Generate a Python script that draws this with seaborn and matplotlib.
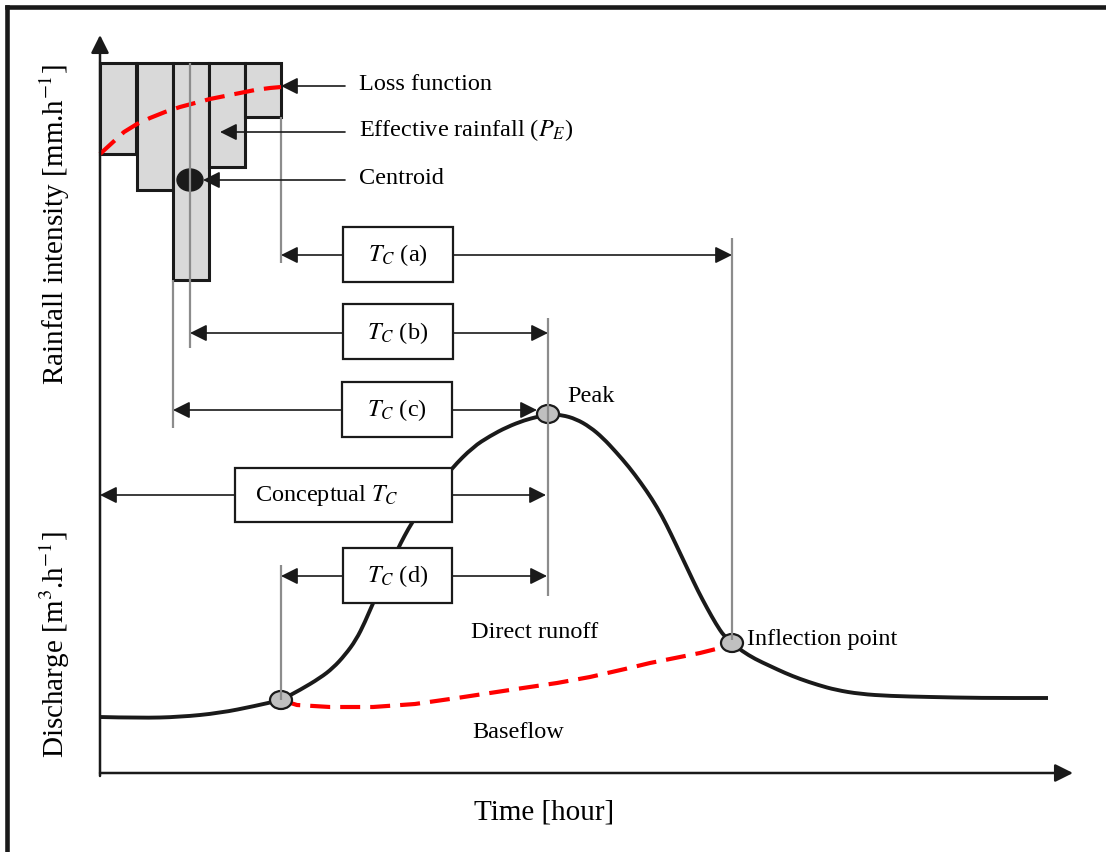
import numpy as np
import matplotlib
matplotlib.use('Agg')
import matplotlib.pyplot as plt
from matplotlib.patches import Rectangle, Ellipse, PathPatch
from matplotlib.path import Path
import seaborn as sns

# drawing units are the pixels of the 1106x852 picture, y grows downward
W, H = 1106, 852

# hyetograph: bars hang down from the top line
bar_left = [100, 137, 173, 209, 245]
bar_width = 36
bar_top = 63
bar_bottom = [154, 190, 280, 167, 117]

# loss function (red dashed)
loss_x = [100, 112, 124, 137, 150, 165, 180, 195, 210, 225, 240, 255, 270, 281]
loss_y = [154, 143, 132, 124, 118, 112, 107, 103, 99, 96, 93, 90, 88, 87]

# hydrograph
hydro_x = [100, 140, 180, 220, 255, 281, 300, 320, 333, 345, 356, 365, 373, 385,
           397, 412, 430, 452, 473, 490, 507, 525, 537, 548, 562, 576, 590, 603,
           616, 629, 641, 652, 662, 671, 680, 689, 698, 707, 716, 724, 732, 742,
           755, 770, 785, 800, 818, 836, 860, 890, 930, 980, 1048]
hydro_y = [717, 718, 717, 713, 706, 700, 690, 678, 668, 655, 640, 622, 603, 578,
           550, 522, 495, 468, 447, 436, 427, 420, 417, 414, 415, 419, 427, 438,
           452, 467, 483, 499, 516, 534, 553, 572, 591, 608, 624, 636, 643, 651,
           659, 666, 673, 679, 685, 690, 694, 696, 697, 698, 698]

# baseflow separation (red dashed)
base_x = [281, 297, 330, 373, 415, 457, 490, 523, 557, 590, 625, 650, 675, 700, 720, 732]
base_y = [700, 705, 707, 707, 704, 698, 693, 688, 683, 677, 669, 663, 658, 653, 648, 643]

centroid_xy = (190, 180)
point_x = [281, 548, 732]          # start of rise, peak, inflection
point_y = [700, 414, 643]

# grey reference lines
guide_x = [190, 173, 281, 281, 548, 732]
guide_y0 = [63, 280, 117, 565, 318, 238]
guide_y1 = [348, 428, 263, 700, 596, 640]

# time-of-concentration definitions
tc_labels = [r'$T_C$ (a)', r'$T_C$ (b)', r'$T_C$ (c)', r'Conceptual $T_C$', r'$T_C$ (d)']
tc_box_x0 = [343, 343, 342, 235, 343]
tc_box_x1 = [453, 453, 452, 452, 452]
tc_box_y0 = [227, 304, 382, 468, 548]
tc_box_y1 = [282, 359, 437, 522, 603]
tc_line_y = [255, 333, 410, 495, 576]
tc_from = [281, 190, 173, 100, 281]
tc_to = [732, 548, 537, 546, 547]

note_labels = ['Loss function', r'Effective rainfall ($P_E$)', 'Centroid']
note_y = [86, 132, 180]
note_tip = [281, 220, 203]

sns.set_theme(style='white')
plt.rcParams['font.family'] = ['Liberation Serif', 'DejaVu Serif']
plt.rcParams['mathtext.fontset'] = 'stix'
plt.rcParams['text.color'] = 'black'

fig = plt.figure(figsize=(W / 100, H / 100), dpi=100)
ax = fig.add_axes([0, 0, 1, 1])

# frame (top and left only)
ax.plot([7, 7], [7, H], color='k', lw=3.3, solid_capstyle='projecting')
ax.plot([7, W], [7, 7], color='k', lw=3.3, solid_capstyle='projecting')


def arrow(x0, y0, x1, y1, lw=1.2, scale=17):
    ax.annotate('', xy=(x1, y1), xytext=(x0, y0),
                arrowprops=dict(arrowstyle='-|>,head_length=0.6,head_width=0.3',
                                color='k', lw=lw, shrinkA=0, shrinkB=0,
                                mutation_scale=scale), zorder=6)


def smooth_path(xs, ys):
    # quadratic bezier through the mid-points, read points act as controls
    pts = np.column_stack([xs, ys]).astype(float)
    verts, codes = [pts[0]], [Path.MOVETO]
    for i in range(1, len(pts) - 1):
        verts += [pts[i], (pts[i] + pts[i + 1]) / 2]
        codes += [Path.CURVE3, Path.CURVE3]
    verts.append(pts[-1])
    codes.append(Path.LINETO)
    return Path(verts, codes)


# axes
arrow(100, 776, 100, 35, lw=1.8, scale=18)
arrow(100, 773, 1073, 773, lw=1.8, scale=18)

# hyetograph
heights = [b - bar_top for b in bar_bottom]
ax.bar(bar_left, heights, width=bar_width, bottom=bar_top, align='edge',
       color='#d9d9d9', edgecolor='k', linewidth=2.2, zorder=2)
ax.add_patch(Ellipse(centroid_xy, 26, 22, facecolor='k', edgecolor='k', zorder=3))
sns.lineplot(x=loss_x, y=loss_y, sort=False, estimator=None, color='red',
             lw=3, linestyle=(0, (4.8, 2.4)), ax=ax, zorder=4)

# hydrograph
ax.add_patch(PathPatch(smooth_path(hydro_x, hydro_y), fill=False, edgecolor='k',
                       lw=2.8, zorder=3))
sns.lineplot(x=base_x, y=base_y, sort=False, estimator=None, color='red',
             lw=3, linestyle=(0, (4.8, 2.4)), ax=ax, zorder=3)
for px, py in zip(point_x, point_y):
    ax.add_patch(Ellipse((px, py), 22, 18, facecolor='#c0c0c0', edgecolor='k',
                         lw=1.6, zorder=4))

ax.vlines(guide_x, guide_y0, guide_y1, color='#8c8c8c', lw=1.6, zorder=5)

# notes on the hyetograph
for lab, y, tip in zip(note_labels, note_y, note_tip):
    arrow(345, y, tip, y)
    ax.text(359, y - 2, lab, fontsize=17.5, va='center', ha='left')

# Tc boxes with arrows
for i, lab in enumerate(tc_labels):
    x0, x1, y0, y1 = tc_box_x0[i], tc_box_x1[i], tc_box_y0[i], tc_box_y1[i]
    ax.add_patch(Rectangle((x0, y0), x1 - x0, y1 - y0, facecolor='white',
                           edgecolor='k', lw=1.6, zorder=7))
    arrow(x0, tc_line_y[i], tc_from[i], tc_line_y[i])
    arrow(x1, tc_line_y[i], tc_to[i], tc_line_y[i])
    if lab.startswith('Conceptual'):
        ax.text(255, tc_line_y[i], lab, fontsize=17.5, va='center', ha='left', zorder=8)
    else:
        ax.text((x0 + x1) / 2, tc_line_y[i], lab, fontsize=17.5, va='center',
                ha='center', zorder=8)

ax.text(567, 396, 'Peak', fontsize=17.5, va='center', ha='left')
ax.text(747, 640, 'Inflection point', fontsize=17.5, va='center', ha='left')
ax.text(471, 632, 'Direct runoff', fontsize=17.5, va='center', ha='left')
ax.text(472, 733, 'Baseflow', fontsize=17.5, va='center', ha='left')

ax.text(544, 812, 'Time [hour]', fontsize=21, va='center', ha='center')
ax.text(55, 225, r'Rainfall intensity [mm.h$^{-1}$]', fontsize=21, rotation=90,
        va='center', ha='center')
ax.text(55, 645, r'Discharge [m$^{3}$.h$^{-1}$]', fontsize=21, rotation=90,
        va='center', ha='center')

ax.set_xlim(0, W)
ax.set_ylim(H, 0)
ax.axis('off')

fig.savefig('out.png', dpi=100)
plt.close()
